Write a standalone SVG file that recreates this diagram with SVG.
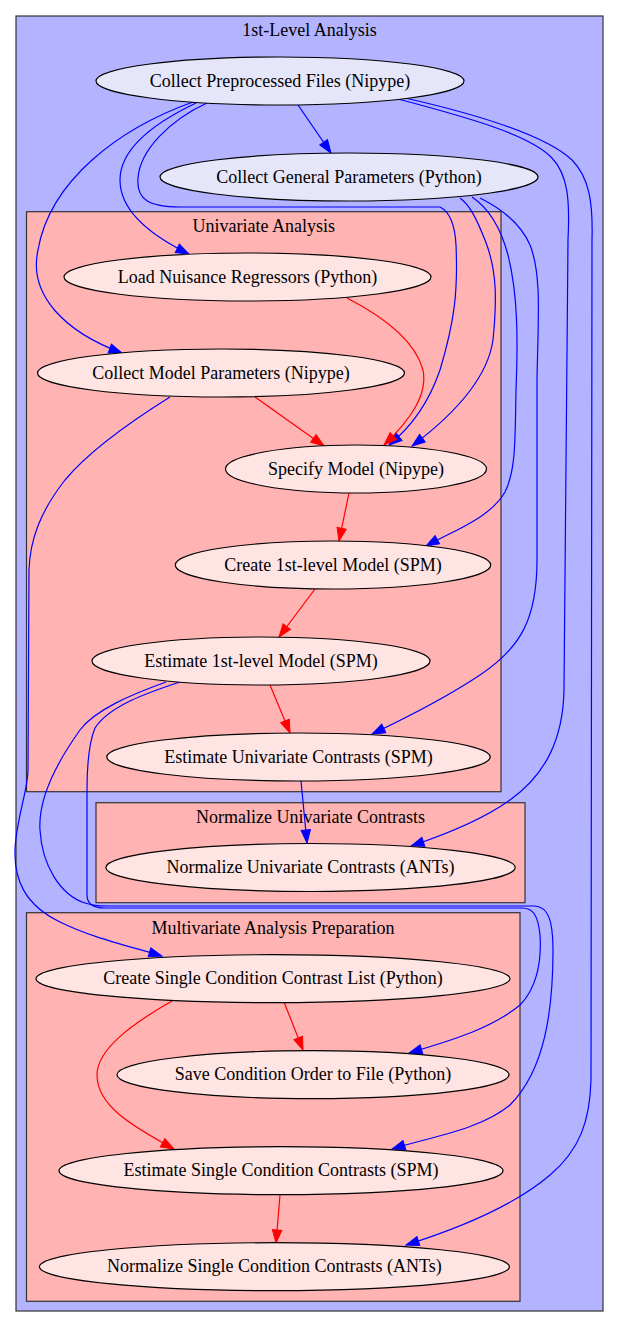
<svg xmlns="http://www.w3.org/2000/svg" width="619" height="1328" viewBox="0 0 619 1328">
<style>
.t{font-family:"Liberation Serif","Times New Roman",serif;font-size:18px;fill:#000;text-anchor:middle}
.cl{stroke:#333;stroke-width:1.2}
.outer{fill:#b3b3ff}
.sub{fill:#ffb3b3}
.nb{fill:#e6e6fa;stroke:#000;stroke-width:1.2}
.np{fill:#ffe4e4;stroke:#000;stroke-width:1.2}
.eb{fill:none;stroke:#0000ff;stroke-width:1.2;marker-end:url(#ab)}
.er{fill:none;stroke:#ff0000;stroke-width:1.2;marker-end:url(#ar)}
</style>
<defs>
<marker id="ab" markerWidth="16" markerHeight="12" refX="14" refY="5.7" orient="auto" markerUnits="userSpaceOnUse"><path d="M1,1 L14,5.7 L1,10.4 z" fill="#0000ff" stroke="#0000ff" stroke-width="1"/></marker>
<marker id="ar" markerWidth="16" markerHeight="12" refX="14" refY="5.7" orient="auto" markerUnits="userSpaceOnUse"><path d="M1,1 L14,5.7 L1,10.4 z" fill="#ff0000" stroke="#ff0000" stroke-width="1"/></marker>
</defs>
<rect width="619" height="1328" fill="#ffffff"/>
<g id="cluster_outer">
<rect class="cl outer" x="16" y="16" width="587" height="1295"/>
<text class="t" x="309.5" y="36">1st-Level Analysis</text>
</g>
<g id="cluster_univariate">
<rect class="cl sub" x="26.5" y="211.7" width="474.5" height="580"/>
<text class="t" x="263.7" y="232">Univariate Analysis</text>
</g>
<g id="cluster_normalize">
<rect class="cl sub" x="96" y="802.7" width="429" height="100"/>
<text class="t" x="310.5" y="823">Normalize Univariate Contrasts</text>
</g>
<g id="cluster_multivariate">
<rect class="cl sub" x="26.5" y="912.7" width="493.5" height="388.6"/>
<text class="t" x="273" y="934">Multivariate Analysis Preparation</text>
</g>
<g id="edges">
<path class="eb" d="M298,105 L331,153"/>
<path class="eb" d="M196,103 C150,125 120,150 120,180 C120,210 150,235 189,254"/>
<path class="eb" d="M193,102 C120,128 50,180 38,250 C28,295 65,332 122,353"/>
<path class="eb" d="M207,103 C170,120 140,150 138,178 C136,200 150,207 180,207 L440,207 C450,212 455,225 456,245 C458,290 455,320 440,370 C428,405 410,428 389,445"/>
<path class="eb" d="M460,198 C470,205 477,220 485,240 C497,270 497,300 493,340 C488,375 460,410 412,446"/>
<path class="eb" d="M472,197 C487,207 500,225 508,255 C518,295 518,340 516,390 C515,440 516,470 505,492 C490,518 455,530 426,546"/>
<path class="eb" d="M480,198 C500,208 520,222 530,245 C542,275 538,320 537,380 L537,560 C537,620 520,648 480,675 C450,695 410,716 372,734"/>
<path class="eb" d="M398,99 C470,118 530,135 552,158 C568,175 570,200 568,240 L564,690 C563,740 545,775 510,800 C485,818 450,833 411,846"/>
<path class="eb" d="M405,98 C480,115 545,135 572,160 C590,178 593,205 592,240 L591,1080 C590,1120 580,1150 550,1175 C515,1205 460,1228 406,1245"/>
<path class="eb" d="M166,682 C130,695 95,710 80,730 C55,765 38,800 40,830 C42,865 60,895 85,903 C95,906 100,906 110,906 L535,906 C548,907 553,920 553,950 C553,1010 545,1070 510,1105 C480,1130 430,1137 392,1149"/>
<path class="eb" d="M180,682 C150,692 110,705 95,728 C88,745 87,770 87,790 L87,895 C87,903 92,908 105,908 L522,908 C533,908 538,915 540,935 C542,965 535,990 520,1005 C490,1030 445,1042 409,1053"/>
<path class="eb" d="M170,397 C130,422 90,450 65,480 C40,512 30,540 29,570 L28,770 C28,790 16,820 15,850 C14,880 25,905 60,922 C90,937 125,945 162,956"/>
<path class="eb" d="M301,781 L307,843"/>
<path class="er" d="M347,298 C380,315 415,340 423,370 C428,395 410,420 384,445"/>
<path class="er" d="M255,397 L324,446"/>
<path class="er" d="M349,493 L339,541"/>
<path class="er" d="M315,589 L279,637"/>
<path class="er" d="M270,685 L290,733"/>
<path class="er" d="M284,1002 L303,1050"/>
<path class="er" d="M172,1001 C130,1025 97,1050 97,1075 C97,1105 130,1125 174,1149"/>
<path class="er" d="M280,1195 L276,1243"/>
</g>
<g id="node_collect_preprocessed">
<ellipse class="nb" cx="280" cy="81" rx="184" ry="24"/>
<text class="t" x="280" y="86.5">Collect Preprocessed Files (Nipype)</text>
</g>
<g id="node_collect_general">
<ellipse class="nb" cx="349" cy="177" rx="189" ry="24"/>
<text class="t" x="349" y="182.5">Collect General Parameters (Python)</text>
</g>
<g id="node_load_nuisance">
<ellipse class="np" cx="247.5" cy="277" rx="183.5" ry="24"/>
<text class="t" x="247.5" y="282.5">Load Nuisance Regressors (Python)</text>
</g>
<g id="node_collect_model">
<ellipse class="np" cx="221" cy="373" rx="183.5" ry="24"/>
<text class="t" x="221" y="378.5">Collect Model Parameters (Nipype)</text>
</g>
<g id="node_specify_model">
<ellipse class="np" cx="356" cy="469" rx="130.5" ry="24"/>
<text class="t" x="356" y="474.5">Specify Model (Nipype)</text>
</g>
<g id="node_create_1st">
<ellipse class="np" cx="333" cy="565" rx="157.7" ry="24"/>
<text class="t" x="333" y="570.5">Create 1st-level Model (SPM)</text>
</g>
<g id="node_estimate_1st">
<ellipse class="np" cx="261" cy="661" rx="169" ry="24"/>
<text class="t" x="261" y="666.5">Estimate 1st-level Model (SPM)</text>
</g>
<g id="node_estimate_univariate">
<ellipse class="np" cx="298.5" cy="757" rx="191.7" ry="24"/>
<text class="t" x="298.5" y="762.5">Estimate Univariate Contrasts (SPM)</text>
</g>
<g id="node_normalize_univariate">
<ellipse class="np" cx="310.5" cy="867.5" rx="204.7" ry="24"/>
<text class="t" x="310.5" y="873">Normalize Univariate Contrasts (ANTs)</text>
</g>
<g id="node_create_single_list">
<ellipse class="np" cx="273" cy="978.7" rx="237" ry="24"/>
<text class="t" x="273" y="984.2">Create Single Condition Contrast List (Python)</text>
</g>
<g id="node_save_order">
<ellipse class="np" cx="313" cy="1074.7" rx="196" ry="24"/>
<text class="t" x="313" y="1080.2">Save Condition Order to File (Python)</text>
</g>
<g id="node_estimate_single">
<ellipse class="np" cx="281" cy="1170.7" rx="222" ry="24"/>
<text class="t" x="281" y="1176.2">Estimate Single Condition Contrasts (SPM)</text>
</g>
<g id="node_normalize_single">
<ellipse class="np" cx="274.4" cy="1266.7" rx="235" ry="24"/>
<text class="t" x="274.4" y="1272.2">Normalize Single Condition Contrasts (ANTs)</text>
</g>
</svg>
